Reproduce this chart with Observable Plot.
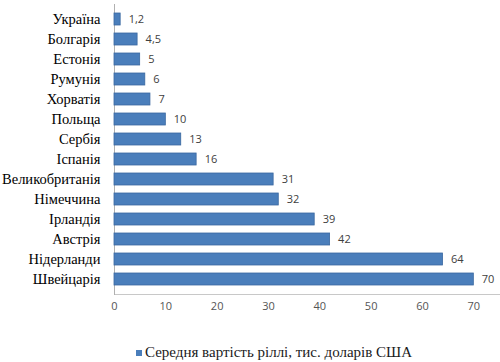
<!DOCTYPE html>
<html>
<head>
<meta charset="utf-8">
<script src="https://cdn.jsdelivr.net/npm/d3@7"></script>
<script src="https://cdn.jsdelivr.net/npm/@observablehq/plot@0.6"></script>
<style>
  html, body { margin: 0; padding: 0; background: #fff; }
  #chart { width: 500px; }
  .legend { font-family: "Liberation Serif", "Times New Roman", serif; font-size: 15px; color: #1a1a1a;
            display: flex; align-items: center; padding-left: 136px; margin-top: 24px; }
  .legend .sw { display: inline-block; width: 6px; height: 6px; background: #4a7ebb; margin-right: 3px; }
</style>
</head>
<body>
<div id="chart"></div>
<script>
const countries = ["Україна","Болгарія","Естонія","Румунія","Хорватія","Польща","Сербія","Іспанія","Великобританія","Німеччина","Ірландія","Австрія","Нідерланди","Швейцарія"];
const values = [1.2, 4.5, 5, 6, 7, 10, 13, 16, 31, 32, 39, 42, 64, 70];
const valueLabels = ["1,2","4,5","5","6","7","10","13","16","31","32","39","42","64","70"];
const xTicks = [0, 10, 20, 30, 40, 50, 60, 70];
const seriesName = "Середня вартість ріллі, тис. доларів США";

const data = countries.map((c, i) => ({country: c, value: values[i], label: valueLabels[i]}));

const plot = Plot.plot({
  width: 500,
  height: 320,
  marginTop: 4,
  marginBottom: 26,
  marginLeft: 114,
  marginRight: 1,
  style: {background: "#fff"},
  x: {domain: [0, 75], ticks: xTicks},
  y: {domain: countries, paddingInner: 0.42, paddingOuter: 0.19},
  marks: [
    Plot.frame({anchor: "bottom", stroke: "#c8c8c8"}),
    Plot.frame({anchor: "left", stroke: "#b0b0b0"}),
    Plot.barX(data, {x: "value", y: "country", fill: "#4a7ebb", stroke: "#3a68a0", strokeWidth: 0.8}),
    Plot.text(data, {x: "value", y: "country", text: "label", dx: 8, textAnchor: "start",
      fontSize: 11, fill: "#404040", fontFamily: "'Open Sans', 'Liberation Sans', sans-serif"}),
    Plot.axisX({ticks: xTicks, tickSize: 0, tickPadding: 8, label: null, fontSize: 11,
      fontFamily: "'Open Sans', 'Liberation Sans', sans-serif", color: "#555"}),
    Plot.axisY({tickSize: 0, tickPadding: 14, label: null, fontSize: 14.5,
      fontFamily: "'Liberation Serif', 'Times New Roman', serif", color: "#000"})
  ]
});
document.getElementById("chart").appendChild(plot);

const legend = document.createElement("div");
legend.className = "legend";
legend.innerHTML = `<span class="sw"></span><span></span>`;
legend.lastChild.textContent = seriesName;
document.getElementById("chart").appendChild(legend);
</script>
</body>
</html>
